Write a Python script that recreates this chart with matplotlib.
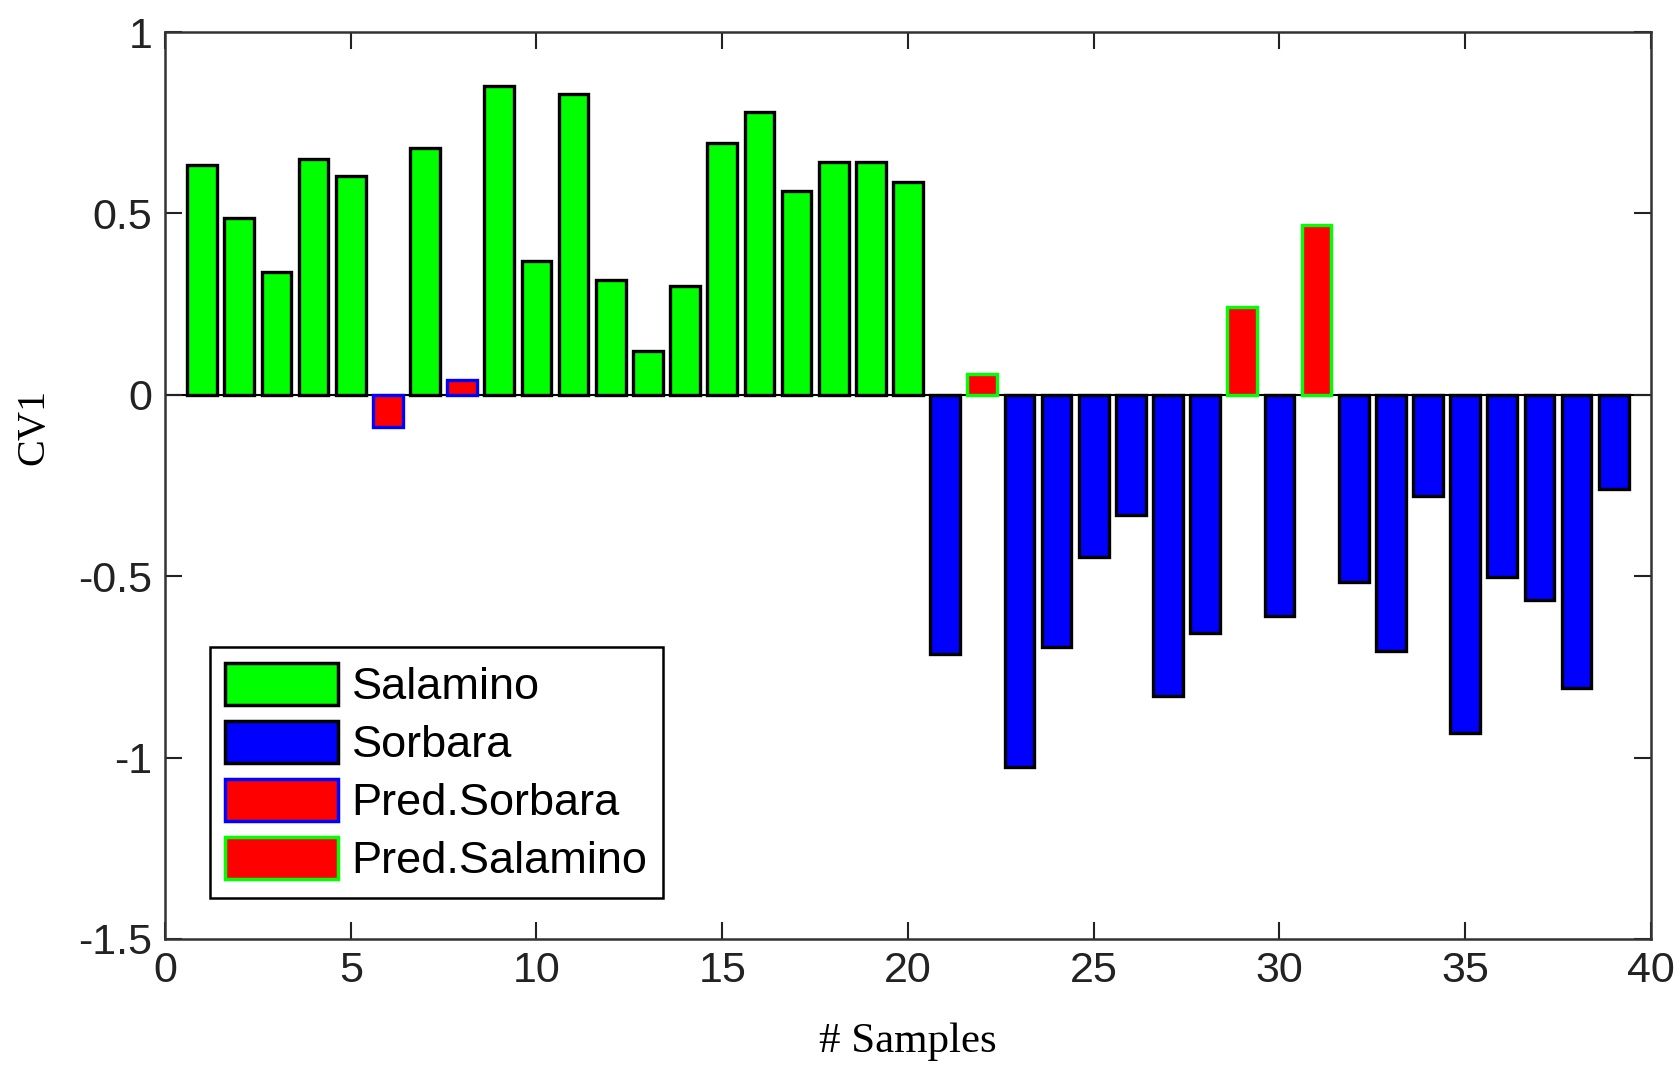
from matplotlib import pyplot as plt
from matplotlib.patches import Patch

# canonical variate 1 for each sample, with its class
samples = list(range(1, 40))
cv1 = [0.633, 0.486, 0.339, 0.651, 0.603, -0.089, 0.679, 0.042, 0.852, 0.369,
       0.829, 0.316, 0.12, 0.299, 0.695, 0.78, 0.562, 0.642, 0.642, 0.587,
       -0.714, 0.056, -1.027, -0.696, -0.448, -0.331, -0.83, -0.657, 0.242, -0.611,
       0.467, -0.517, -0.705, -0.278, -0.931, -0.503, -0.565, -0.807, -0.261]
group = ['Salamino'] * 5 + ['Pred.Sorbara', 'Salamino', 'Pred.Sorbara'] + ['Salamino'] * 12 \
    + ['Sorbara', 'Pred.Salamino'] + ['Sorbara'] * 6 + ['Pred.Salamino', 'Sorbara', 'Pred.Salamino'] \
    + ['Sorbara'] * 8

classes = ['Salamino', 'Sorbara', 'Pred.Sorbara', 'Pred.Salamino']
face = {'Salamino': '#00ff00', 'Sorbara': '#0000ff',
        'Pred.Sorbara': '#ff0000', 'Pred.Salamino': '#ff0000'}
edge = {'Salamino': 'black', 'Sorbara': 'black',
        'Pred.Sorbara': '#0000ff', 'Pred.Salamino': '#00ff00'}

plt.rcParams['font.family'] = 'Liberation Sans'

fig = plt.figure(figsize=(16.8, 10.67), dpi=100)
ax = fig.add_axes([0.0982, 0.120, 0.8845, 0.850])

ax.axhline(0, color='black', lw=1.5, zorder=1)
for c in classes:
    xs = [s for s, g in zip(samples, group) if g == c]
    ys = [v for v, g in zip(cv1, group) if g == c]
    ax.bar(xs, ys, width=0.8, color=face[c], edgecolor=edge[c], linewidth=2.4, zorder=2)

ax.set_xlim(0, 40)
ax.set_ylim(-1.5, 1)
ax.set_xticks(range(0, 41, 5))
ax.set_yticks([-1.5, -1, -0.5, 0, 0.5, 1])
ax.set_yticklabels(['-1.5', '-1', '-0.5', '0', '0.5', '1'])
ax.tick_params(direction='in', length=12, width=1.5, labelsize=31,
               top=True, right=True, pad=9, colors='#222222')
for sp in ax.spines.values():
    sp.set_linewidth(1.8)
    sp.set_color('#333333')

ax.set_xlabel('# Samples', family='Liberation Serif', fontsize=31, labelpad=22)
ax.set_ylabel('CV1', family='Liberation Serif', fontsize=29)
ax.yaxis.set_label_coords(-0.076, 0.565)

handles = [Patch(facecolor=face[c], edgecolor=edge[c], linewidth=2.5) for c in classes]
leg = ax.legend(handles, classes, loc='lower left', bbox_to_anchor=(0.030, 0.045),
                borderaxespad=0, fontsize=32.5, handlelength=2.5, handleheight=1.05,
                labelspacing=0.28, handletextpad=0.3, borderpad=0.35,
                fancybox=False, framealpha=1)
leg.get_frame().set_edgecolor('black')
leg.get_frame().set_linewidth(1.8)

plt.savefig('out.png', dpi=100)
